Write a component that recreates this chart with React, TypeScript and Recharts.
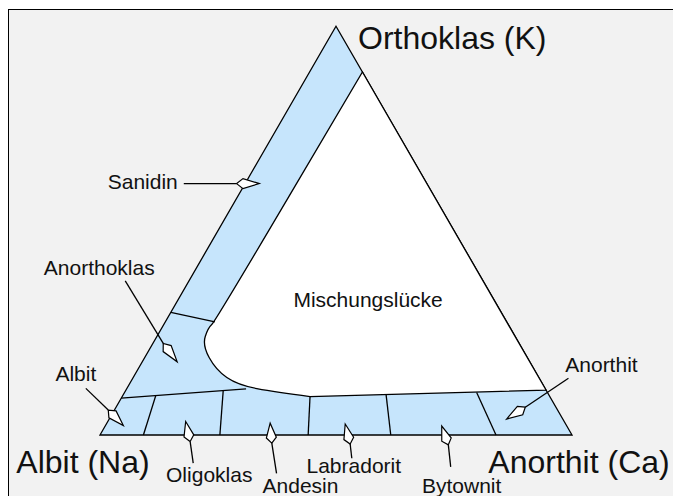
import React from 'react';
import { ScatterChart, Scatter, XAxis, YAxis } from 'recharts';

type Tern = { or: number; an: number }; // mol-% Or and An, Ab is the rest
type Pt = { x: number; y: number };

// corners of the feldspar triangle
const corners: Tern[] = [
  { or: 0, an: 0 },
  { or: 100, an: 0 },
  { or: 0, an: 100 },
];
const cornerNames = ['Albit (Na)', 'Orthoklas (K)', 'Anorthit (Ca)'];

// Mischungslücke outline: 3 straight corners, then the rounded Ab-side bulge
const gapOutline: Tern[] = [
  { or: 88.8, an: 11.2 },
  { or: 11.0, an: 89.0 },
  { or: 9.4, an: 39.8 },
  { or: 10.5, an: 32.0 },
  { or: 12.2, an: 23.1 },
  { or: 15.9, an: 16.6 },
  { or: 22.0, an: 10.7 },
  { or: 26.2, an: 9.8 },
  { or: 27.7, an: 10.5 },
];
const gapName = 'Mischungslücke';
const gapLabelAt: Tern = { or: 31.2, an: 41.2 };

// Sanidin / Anorthoklas boundary
const alkaliSplit: Tern[] = [{ or: 30.0, an: 0 }, { or: 27.7, an: 10.5 }];
// upper plagioclase boundary on the Ab side (the rest is the gap's lower edge)
const plagSplit: Tern[] = [{ or: 9.0, an: 0 }, { or: 11.3, an: 25.3 }];
// plagioclase series dividers: An on the base, and where they end above
const plagBase = [9.2, 25.4, 44.1, 61.6, 83.9];
const plagTop: Tern[] = [
  { or: 9.6, an: 7.0 },
  { or: 10.8, an: 20.7 },
  { or: 9.4, an: 39.8 },
  { or: 10.0, an: 55.6 },
  { or: 10.4, an: 74.6 },
];

// named minerals: leader start, marker back, marker tip
const minerals = ['Sanidin', 'Anorthoklas', 'Albit', 'Oligoklas', 'Andesin', 'Labradorit', 'Bytownit', 'Anorthit'];
const leaderEnds: Tern[] = [
  { or: 61.5, an: -13.0 },
  { or: 37.7, an: -13.5 },
  { or: 11.4, an: -8.7 },
  { or: -6.9, an: 23.2 },
  { or: -9.4, an: 42.1 },
  { or: -5.7, an: 56.2 },
  { or: -7.8, an: 78.2 },
  { or: 13.9, an: 92.3 },
];
const markerBacks: Tern[] = [
  { or: 61.5, an: -1.8 },
  { or: 22.4, an: 2.2 },
  { or: 6.1, an: -1.3 },
  { or: -1.6, an: 19.9 },
  { or: -2.0, an: 37.4 },
  { or: -2.2, an: 54.1 },
  { or: -2.4, an: 75.0 },
  { or: 6.8, an: 86.7 },
];
const markerTips: Tern[] = [
  { or: 61.5, an: 3.0 },
  { or: 17.9, an: 7.4 },
  { or: 2.3, an: 3.8 },
  { or: 3.3, an: 16.5 },
  { or: 2.9, an: 34.6 },
  { or: 2.7, an: 50.6 },
  { or: 2.2, an: 71.3 },
  { or: 3.9, an: 84.2 },
];

// layout: text offsets in px from the anchor point
const mineralText: { dx: number; dy: number; anchor: 'start' | 'middle' | 'end' }[] = [
  { dx: -6, dy: 5, anchor: 'end' },
  { dx: -26, dy: -6, anchor: 'middle' },
  { dx: -10, dy: -7, anchor: 'middle' },
  { dx: 16, dy: 19, anchor: 'middle' },
  { dx: 24, dy: 20, anchor: 'middle' },
  { dx: 2, dy: 15, anchor: 'middle' },
  { dx: 11, dy: 26, anchor: 'middle' },
  { dx: 33, dy: -6, anchor: 'middle' },
];
const cornerText: { dx: number; dy: number; anchor: 'start' | 'middle' | 'end' }[] = [
  { dx: -17, dy: 38, anchor: 'middle' },
  { dx: 22, dy: 23, anchor: 'start' },
  { dx: 7, dy: 38, anchor: 'middle' },
];

const X_DOMAIN: [number, number] = [-21.186, 121.398];
const Y_DOMAIN: [number, number] = [-12.924, 92.161];
const BLUE = '#c6e5fc';
const FONT = '"Liberation Sans", Arial, Helvetica, sans-serif';
const SW = 1.3;

const SQ3 = Math.sqrt(3) / 2;
const toXY = (t: Tern): Pt => ({ x: t.an + t.or / 2, y: t.or * SQ3 });

const noDot = () => <g />;

// points from index smoothFrom on are rounded with quadratic midpoints
function pathOf(pts: Pt[], closed: boolean, smoothFrom = Infinity) {
  const n = pts.length;
  let d = `M${pts[0].x},${pts[0].y}`;
  for (let i = 1; i < n; i++) {
    const p = pts[i];
    if (i >= smoothFrom) {
      const q = pts[(i + 1) % n];
      d += ` Q${p.x},${p.y} ${(p.x + q.x) / 2},${(p.y + q.y) / 2}`;
    } else {
      d += ` L${p.x},${p.y}`;
    }
  }
  return closed ? d + ' Z' : d;
}

function kitePath(b: Pt, t: Pt) {
  const dx = t.x - b.x;
  const dy = t.y - b.y;
  const len = Math.hypot(dx, dy);
  const ux = dx / len;
  const uy = dy / len;
  const w = 5;
  const mx = b.x + dx * 0.28;
  const my = b.y + dy * 0.28;
  return `M${b.x},${b.y} L${mx - uy * w},${my + ux * w} L${t.x},${t.y} L${mx + uy * w},${my - ux * w} Z`;
}

const outline = (key: string, pts: Tern[], draw: (p: Pt[]) => React.ReactElement) => (
  <Scatter
    key={key}
    data={pts.map(toXY)}
    shape={noDot}
    isAnimationActive={false}
    line={(props: any) => draw(props.points)}
  />
);

const segment = (key: string, pts: Tern[]) =>
  outline(key, pts, (p) => <path d={pathOf(p, false)} fill="none" stroke="#000" strokeWidth={SW} />);

const label = (
  key: string,
  at: Tern,
  text: string,
  size: number,
  pos: { dx: number; dy: number; anchor: 'start' | 'middle' | 'end' },
) => (
  <Scatter
    key={key}
    data={[toXY(at)]}
    isAnimationActive={false}
    shape={(p: any) => (
      <text x={p.cx + pos.dx} y={p.cy + pos.dy} fontSize={size} fontFamily={FONT} textAnchor={pos.anchor} fill="#111">
        {text}
      </text>
    )}
  />
);

export default function App() {
  return (
    <div style={{ position: 'absolute', left: 0, top: 0, width: 673, height: 496, overflow: 'hidden', background: '#fff' }}>
      <div
        style={{
          position: 'absolute',
          left: 8,
          top: 9,
          width: 700,
          height: 520,
          borderTop: '1.5px solid #000',
          borderLeft: '1.5px solid #000',
          background: '#f2f2f2',
        }}
      />
      <div style={{ position: 'absolute', left: 0, top: 0 }}>
        <ScatterChart width={673} height={496} margin={{ top: 0, right: 0, bottom: 0, left: 0 }}>
          <XAxis type="number" dataKey="x" domain={X_DOMAIN} allowDataOverflow hide />
          <YAxis type="number" dataKey="y" domain={Y_DOMAIN} allowDataOverflow hide />
          {outline('triangle', corners, (p) => (
            <path d={pathOf(p, true)} fill={BLUE} stroke="#000" strokeWidth={SW} strokeLinejoin="miter" />
          ))}
          {outline('gap', gapOutline, (p) => (
            <path d={pathOf(p, true, 3)} fill="#fff" stroke="#000" strokeWidth={SW} />
          ))}
          {segment('alkali', alkaliSplit)}
          {segment('plag', plagSplit)}
          {plagBase.map((an, i) => segment(`div-${i}`, [{ or: 0, an }, plagTop[i]]))}
          {minerals.map((m, i) => segment(`lead-${m}`, [leaderEnds[i], markerBacks[i]]))}
          {minerals.map((m, i) =>
            outline(`mark-${m}`, [markerBacks[i], markerTips[i]], (p) => (
              <path d={kitePath(p[0], p[1])} fill="#fff" stroke="#000" strokeWidth={1.2} strokeLinejoin="miter" />
            )),
          )}
          {minerals.map((m, i) => label(`txt-${m}`, leaderEnds[i], m, 21, mineralText[i]))}
          {cornerNames.map((c, i) => label(`corner-${i}`, corners[i], c, 32, cornerText[i]))}
          {label('gap-txt', gapLabelAt, gapName, 21, { dx: 0, dy: 0, anchor: 'middle' })}
        </ScatterChart>
      </div>
    </div>
  );
}
